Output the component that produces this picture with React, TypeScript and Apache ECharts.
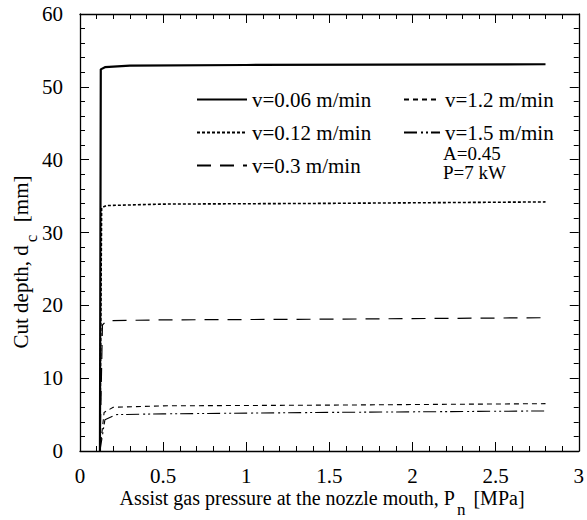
import React, { useEffect, useRef } from "react";
import * as echarts from "echarts";

const FONT = "'Liberation Serif', 'Times New Roman', serif";

const seriesNames = ["v=0.06 m/min", "v=0.12 m/min", "v=0.3 m/min", "v=1.2 m/min", "v=1.5 m/min"];

const v006: number[][] = [[0.12, 0], [0.125, 52.4], [0.15, 52.7], [0.3, 52.9], [1.0, 53.0], [2.8, 53.1]];
const v012: number[][] = [[0.12, 0], [0.13, 33.4], [0.16, 33.7], [0.5, 33.9], [1.5, 34.0], [2.8, 34.2]];
const v03: number[][] = [[0.12, 0], [0.135, 17.3], [0.16, 17.9], [0.5, 18.0], [1.5, 18.1], [2.8, 18.3]];
const v12: number[][] = [[0.12, 0], [0.145, 5.3], [0.2, 6.0], [0.5, 6.2], [1.5, 6.3], [2.8, 6.5]];
const v15: number[][] = [[0.12, 0], [0.15, 4.3], [0.22, 5.0], [0.5, 5.1], [1.5, 5.3], [2.8, 5.5]];

const xTicks = { min: 0, max: 3, interval: 0.5 };
const yTicks = { min: 0, max: 60, interval: 10 };

const noteLines = ["A=0.45", "P=7 kW"];

export default function App() {
  const ref = useRef<HTMLDivElement>(null);
  useEffect(() => {
    if (!ref.current) return;
    const chart = echarts.init(ref.current, undefined, { renderer: "svg" });
    const axisCommon = {
      axisLine: { onZero: false, lineStyle: { color: "#000", width: 1.3 } },
      axisTick: { inside: true, length: 9, lineStyle: { color: "#000", width: 1 } },
      minorTick: { show: true, splitNumber: 5, length: 5, lineStyle: { color: "#000", width: 1 } },
      splitLine: { show: false },
      minorSplitLine: { show: false },
    };
    const labelStyle = { fontFamily: FONT, fontSize: 21, lineHeight: 20, color: "#000" };
    const mk = (name: string, data: number[][], width: number, type: any) => ({
      name,
      type: "line",
      data,
      showSymbol: false,
      symbol: "none",
      xAxisIndex: 0,
      yAxisIndex: 0,
      lineStyle: { color: "#000", width, type },
      itemStyle: { color: "#000" },
    });
    const legendText = { fontFamily: FONT, fontSize: 21, color: "#000", lineHeight: 20 };
    const legendCommon = {
      orient: "vertical",
      top: 89,
      padding: 0,
      itemHeight: 14,
      itemGap: 12,
      textStyle: legendText,
      itemStyle: { opacity: 0 },
    };
    chart.setOption({
      animation: false,
      backgroundColor: "#fff",
      grid: { left: 80, right: 2, top: 14, bottom: 69, containLabel: false },
      xAxis: [
        { type: "value", position: "bottom", ...xTicks, ...axisCommon, axisLabel: { ...labelStyle, margin: 15 } },
        { type: "value", position: "top", ...xTicks, ...axisCommon, axisLabel: { show: false } },
      ],
      yAxis: [
        { type: "value", position: "left", ...yTicks, ...axisCommon, axisLabel: { ...labelStyle, margin: 17 } },
        { type: "value", position: "right", ...yTicks, ...axisCommon, axisLabel: { show: false } },
      ],
      legend: [
        { ...legendCommon, data: seriesNames.slice(0, 3), left: 196, itemWidth: 50 },
        { ...legendCommon, data: seriesNames.slice(3), left: 403, itemWidth: 36 },
      ],
      graphic: [
        {
          type: "text",
          x: 443,
          y: 144,
          style: { text: noteLines[0], font: `19px ${FONT}`, fill: "#000", verticalAlign: "top" },
        },
        {
          type: "text",
          x: 443,
          y: 163,
          style: { text: noteLines[1], font: `19px ${FONT}`, fill: "#000", verticalAlign: "top" },
        },
        {
          type: "text",
          x: 322,
          y: 488,
          style: {
            text: "{b|Assist gas pressure at the nozzle mouth, P}{s|n}{b| [MPa]}",
            align: "center",
            verticalAlign: "top",
            rich: {
              b: { fontFamily: FONT, fontSize: 20, lineHeight: 21, verticalAlign: "top", fill: "#000" },
              s: { fontFamily: FONT, fontSize: 17, lineHeight: 17, verticalAlign: "top", padding: [13, 3, 0, 2], fill: "#000" },
            },
          },
        },
        {
          type: "text",
          x: 10,
          y: 262,
          rotation: Math.PI / 2,
          style: {
            text: "{b|Cut depth, d}{s|c}{b|  [mm]}",
            align: "center",
            verticalAlign: "top",
            rich: {
              b: { fontFamily: FONT, fontSize: 21, lineHeight: 22, verticalAlign: "top", fill: "#000" },
              s: { fontFamily: FONT, fontSize: 17, lineHeight: 17, verticalAlign: "top", padding: [13, 2, 0, 3], fill: "#000" },
            },
          },
        },
      ],
      series: [
        mk(seriesNames[0], v006, 2.2, "solid"),
        mk(seriesNames[1], v012, 1.6, [3, 2]),
        mk(seriesNames[2], v03, 1.2, [14, 9]),
        mk(seriesNames[3], v12, 1.1, [5, 4]),
        mk(seriesNames[4], v15, 1.1, [13, 4, 2, 3, 2, 3]),
      ],
    });
    return () => chart.dispose();
  }, []);
  return <div ref={ref} style={{ position: "absolute", left: 0, top: 0, width: 587, height: 520 }} />;
}
